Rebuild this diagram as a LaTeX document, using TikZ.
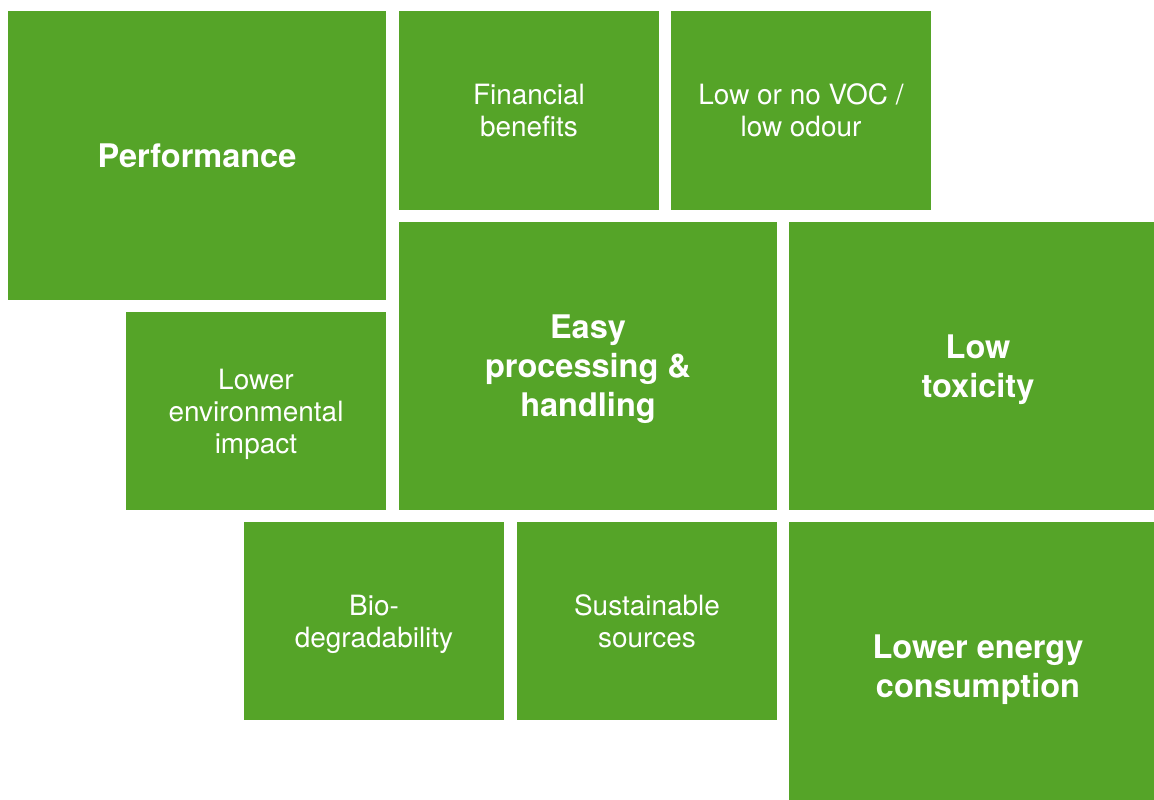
\documentclass[tikz,border=0pt]{standalone}
\usepackage{fontspec}
\setmainfont{TeX Gyre Heros}
\definecolor{tilegreen}{RGB}{85, 164, 40}
\usepackage{tikz}
\usetikzlibrary{positioning}

\begin{document}
\begin{tikzpicture}[
  x=0.02cm, y=-0.02cm,
  tile/.style={fill=tilegreen, text=white, inner sep=0pt, align=center, text depth=0pt},
  thin tile/.style={tile, font=\fontsize{15.9}{18.2}\selectfont},
  bold tile/.style={tile, font=\fontsize{18.5}{22.2}\selectfont\bfseries}
]
  \useasboundingbox (0,0) rectangle (1154,800);

  % top row
  \node[bold tile, minimum width=7.56cm, minimum height=5.78cm] (perf) at (197,155.5) {Performance};
  \node[thin tile, minimum width=5.2cm, minimum height=3.98cm] (fin) at (529,110.5) {Financial\\benefits};
  \node[thin tile, minimum width=5.2cm, minimum height=3.98cm] (voc) at (801,110.5) {Low or no VOC /\\low odour};

  % middle row
  \node[thin tile, minimum width=5.2cm, minimum height=3.96cm] (env) at (256,411) {Lower\\environmental\\impact};
  \node[bold tile, minimum width=7.56cm, minimum height=5.76cm] (easy) at (588,366) {Easy\\processing \&\\handling};
  \node[bold tile, minimum width=7.56cm, minimum height=5.76cm] (tox) at (978,366) {Low\\toxicity};

  % bottom row
  \node[thin tile, minimum width=5.2cm, minimum height=3.96cm] (bio) at (374,621) {Bio-\\degradability};
  \node[thin tile, minimum width=5.2cm, minimum height=3.96cm] (sust) at (647,621) {Sustainable\\sources};
  \node[bold tile, minimum width=7.56cm, minimum height=5.76cm] (energy) at (978,666) {Lower energy\\consumption};
\end{tikzpicture}
\end{document}
